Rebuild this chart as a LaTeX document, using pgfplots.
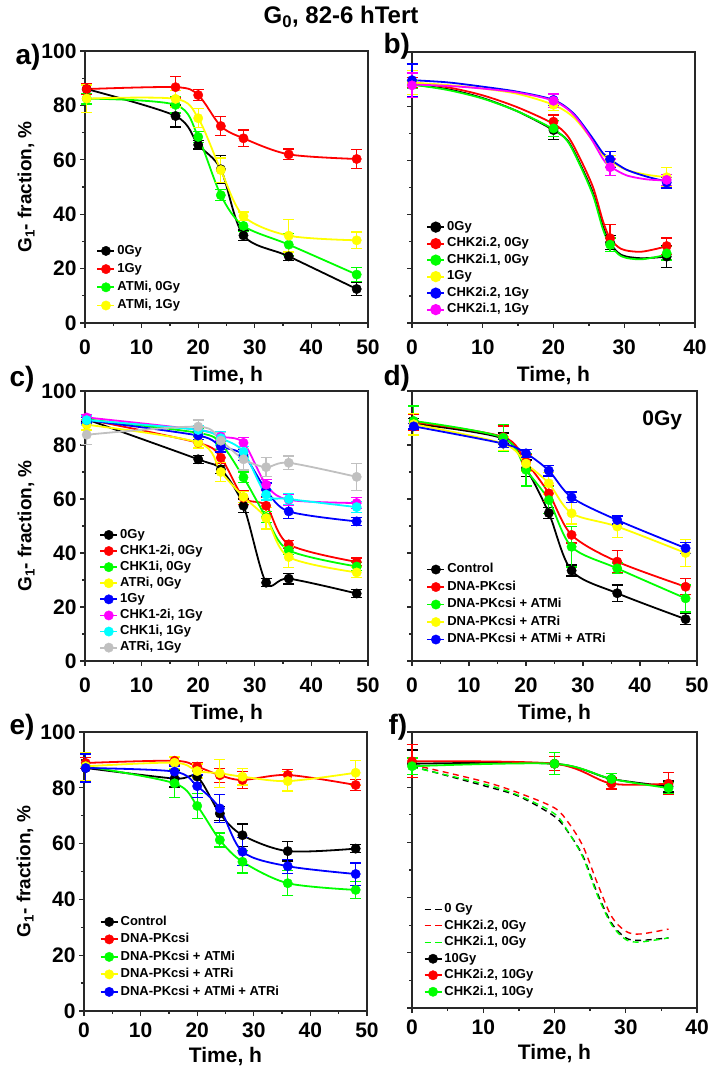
\documentclass[border=0pt]{standalone}
\usepackage{fontspec}
\setmainfont{Liberation Sans}
\usepackage{pgfplots}
\pgfplotsset{compat=1.18}
\definecolor{lgrey}{RGB}{192,192,192}
\definecolor{axgrey}{RGB}{40,40,40}
\definecolor{cred}{RGB}{255,0,0}
\definecolor{cgreen}{RGB}{0,255,0}
\definecolor{cyell}{RGB}{255,255,0}
\definecolor{cblue}{RGB}{0,0,255}
\definecolor{cmag}{RGB}{255,0,255}
\definecolor{ccyan}{RGB}{0,255,255}

\pgfplotsset{
  panel/.style={scale only axis, width=283pt, height=271pt,
    ymin=0, ymax=100, ytick={0,20,...,100}, minor y tick num=1, minor x tick num=1,
    axis line style={axgrey, line width=1.8pt},
    tick align=outside, xtick pos=bottom, ytick pos=left,
    major tick length=5pt, minor tick length=3pt,
    every tick/.style={axgrey, line width=1.3pt},
    ticklabel style={font=\bfseries\fontsize{21}{21}\selectfont},
    xticklabel style={yshift=-3pt},
    /pgf/number format/assume math mode=true,
    xlabel={Time, h},
    xlabel style={font=\bfseries\fontsize{21}{21}\selectfont, yshift=-3pt},
    ylabel style={font=\bfseries\fontsize{19}{19}\selectfont},
    clip=false, legend cell align=left,
    legend style={draw=none, fill=none, anchor=south west, inner sep=0pt,
      font=\bfseries\fontsize{13}{13}\selectfont,
      nodes={inner sep=2pt, text height=9pt, text depth=2.5pt}}},
  lowlab/.style={xlabel style={yshift=-2pt}, xticklabel style={yshift=-5pt}},
  ser/.style={color=#1, line width=1.8pt, smooth, tension=0.5, mark=*, mark size=4.7pt,
    mark options={solid, fill=#1, draw=#1, line width=0.4pt},
    error bars/y dir=both, error bars/y explicit,
    error bars/error bar style={line width=1.3pt, #1, solid},
    error bars/error mark options={rotate=90, mark size=5.5pt, line width=1.3pt, #1}},
  leg/.style={color=#1, line width=1.8pt, mark=*, mark size=4.7pt,
    mark options={solid, fill=#1, draw=#1}},
  crv/.style={color=#1, line width=1.8pt, smooth, tension=0.5, no marks},
  dsh/.style={color=#1, line width=1.4pt, smooth, tension=0.5, no marks, dash pattern=on 6pt off 4.5pt},
}

\begin{document}
\begin{tikzpicture}
\useasboundingbox (0,0) rectangle (711pt,1069pt);

\node[anchor=base, font=\bfseries\fontsize{24}{24}\selectfont] at (341pt,1045pt) {G\textsubscript{0}, 82-6 hTert};

% ---------- a) ----------
\begin{axis}[panel, lowlab, at={(85pt,746pt)}, anchor=south west, height=272pt,
  xmin=0, xmax=50, xtick={0,10,...,50},
  ylabel={G\textsubscript{1}- fraction, \%},
  legend style={at={(0.04,0.035)}, row sep=2.7pt}]
\addplot[ser=black] coordinates {(0.3,86) +- (0,1.5) (16,76.1) +- (0,4) (20,65.5) +- (0,1.5) (24,56.5) +- (0,5) (28,32.2) +- (0,2) (36,24.5) +- (0,1.5) (48,12.5) +- (0,2.5)};
\addlegendentry{0Gy}
\addplot[ser=cred] coordinates {(0.3,86) +- (0,2) (16,86.7) +- (0,4) (20,83.8) +- (0,2) (24,72.4) +- (0,3.5) (28,67.9) +- (0,3) (36,62) +- (0,2) (48,60.3) +- (0,3.5)};
\addlegendentry{1Gy}
\addplot[ser=cgreen] coordinates {(0.3,82.5) +- (0,2) (16,80.2) +- (0,3) (20,68.4) +- (0,2) (24,47) +- (0,2) (28,35.7) +- (0,2) (36,28.8) +- (0,4) (48,17.8) +- (0,2.5)};
\addlegendentry{ATMi, 0Gy}
\addplot[ser=cyell] coordinates {(0.3,82.5) +- (0,5) (16,82.4) +- (0,3) (20,75.3) +- (0,3.5) (24,56.2) +- (0,4.5) (28,39.3) +- (0,1.5) (36,32.1) +- (0,6) (48,30.4) +- (0,3)};
\addlegendentry{ATMi, 1Gy}
\end{axis}
\node[anchor=base west, font=\bfseries\fontsize{28}{28}\selectfont] at (12pt,1004pt) {a)};

% ---------- b) ----------
\begin{axis}[panel, lowlab, at={(412pt,746pt)}, anchor=south west,
  xmin=0, xmax=40, xtick={0,10,...,40}, yticklabels={},
  legend style={at={(0.05,0.02)}, row sep=1pt}]
\addlegendimage{leg=black}\addlegendentry{0Gy}
\addlegendimage{leg=cred}\addlegendentry{CHK2i.2, 0Gy}
\addlegendimage{leg=cgreen}\addlegendentry{CHK2i.1, 0Gy}
\addlegendimage{leg=cyell}\addlegendentry{1Gy}
\addlegendimage{leg=cblue}\addlegendentry{CHK2i.2, 1Gy}
\addlegendimage{leg=cmag}\addlegendentry{CHK2i.1, 1Gy}
\addplot[crv=black, forget plot] coordinates {(0,88) (5,86.3) (10,83) (15,78) (20,71.2) (22,67.3) (23.7,59) (25.6,47.8) (27,35.5) (28,29.5) (29.6,25.1) (32.4,23.9) (36,24.5)};
\addplot[crv=cred, forget plot] coordinates {(0,88.7) (5,87) (10,84) (15,79.5) (20,73.5) (22,69) (23.7,61) (25.6,50) (27,37.5) (28,31.3) (29.6,27.3) (32.4,26.3) (36,28.3)};
\addplot[crv=cgreen, forget plot] coordinates {(0,88) (5,86) (10,82.8) (15,78) (20,71.5) (22,67) (23.7,58.5) (25.6,47) (27,34.5) (28,29) (29.6,24.6) (32.4,23.5) (36,25.2)};
\addplot[crv=cyell, forget plot] coordinates {(0,88.7) (5,87.8) (10,86.5) (15,84.5) (20,80.5) (22.8,76) (25.2,68.5) (27,62) (28,59.8) (30.3,56.5) (33.2,54.7) (36,53.8)};
\addplot[crv=cblue, forget plot] coordinates {(0,89.6) (5,88.8) (10,87.2) (15,85.3) (20,82.3) (22.8,77.4) (25.2,69.4) (27,62.6) (28,60.4) (30.3,56.6) (33.2,54) (36,52.2)};
\addplot[crv=cmag, forget plot] coordinates {(0,88) (5,87.5) (10,86.5) (15,85) (20,82) (22.8,77) (25.2,68.5) (27,60.5) (28,57.8) (30.3,54.5) (33.2,53) (36,52.6)};
\addplot[ser=black, only marks, forget plot] coordinates {(0,88) +- (0,1.5) (20,71.2) +- (0,3.5) (28,29.7) +- (0,2.5) (36,24.5) +- (0,4)};
\addplot[ser=cred, only marks, forget plot] coordinates {(0,88.7) +- (0,2) (20,74.3) +- (0,2.5) (28,31.3) +- (0,5) (36,28.4) +- (0,3)};
\addplot[ser=cgreen, only marks, forget plot] coordinates {(0,88) +- (0,1.5) (20,71.8) +- (0,3) (28,28.9) +- (0,2.5) (36,25.7) +- (0,2.5)};
\addplot[ser=cyell, only marks, forget plot] coordinates {(0,88.7) +- (0,4.5) (20,80.5) +- (0,2) (28,59.8) +- (0,2) (36,53.8) +- (0,3.5)};
\addplot[ser=cblue, only marks, forget plot] coordinates {(0,89.6) +- (0,6) (20,82.3) +- (0,2) (28,60.4) +- (0,3) (36,51.8) +- (0,2)};
\addplot[ser=cmag, only marks, forget plot] coordinates {(0,87.7) +- (0,4.5) (20,82) +- (0,2.5) (28,57.5) +- (0,3) (36,52.8) +- (0,2)};
\end{axis}
\node[anchor=base west, font=\bfseries\fontsize{28}{28}\selectfont] at (380pt,1015pt) {b)};

% ---------- c) ----------
\begin{axis}[panel, lowlab, at={(85pt,408pt)}, anchor=south west, height=270pt,
  xmin=0, xmax=50, xtick={0,10,...,50},
  ylabel={G\textsubscript{1}- fraction, \%},
  legend style={at={(0.05,0.02)}, row sep=0.6pt}]
\addplot[ser=black] coordinates {(0.3,89.5) +- (0,1) (20,74.7) +- (0,1.5) (24,71) +- (0,1.5) (28,57.5) +- (0,2.5) (32,29) +- (0,1.5) (36,30.5) +- (0,2) (48,25) +- (0,1.5)};
\addlegendentry{0Gy}
\addplot[ser=cred] coordinates {(0.3,89.5) +- (0,1.5) (20,80.8) +- (0,2) (24,75.3) +- (0,2) (28,60.5) +- (0,2.5) (32,57.5) +- (0,3) (36,43.2) +- (0,1.5) (48,36.7) +- (0,1.5)};
\addlegendentry{CHK1-2i, 0Gy}
\addplot[ser=cgreen] coordinates {(0.3,89.5) +- (0,1.5) (20,84.5) +- (0,1.5) (24,80.5) +- (0,2) (28,68) +- (0,2) (32,53.3) +- (0,2) (36,41) +- (0,1.5) (48,35) +- (0,1.5)};
\addlegendentry{CHK1i, 0Gy}
\addplot[ser=cyell] coordinates {(0.3,87.5) +- (0,2) (20,80.9) +- (0,2) (24,70) +- (0,3.5) (28,60.8) +- (0,2) (32,52.9) +- (0,4) (36,38.5) +- (0,4) (48,32.8) +- (0,2)};
\addlegendentry{ATRi, 0Gy}
\addplot[ser=cblue] coordinates {(0.3,89.2) +- (0,1) (20,83.5) +- (0,1.5) (24,79.4) +- (0,2) (28,76.3) +- (0,2) (32,63.4) +- (0,2.5) (36,55.4) +- (0,2.5) (48,51.7) +- (0,1.5)};
\addlegendentry{1Gy}
\addplot[ser=cmag] coordinates {(0.3,90.2) +- (0,1) (20,85.6) +- (0,1.5) (24,83.1) +- (0,1.5) (28,80.8) +- (0,2) (32,65.3) +- (0,2) (36,59.7) +- (0,2) (48,58.5) +- (0,2)};
\addlegendentry{CHK1-2i, 1Gy}
\addplot[ser=ccyan] coordinates {(0.3,89.2) +- (0,1.5) (20,85.6) +- (0,1.5) (24,82.5) +- (0,2.5) (28,77.5) +- (0,2) (32,61.6) +- (0,2) (36,60) +- (0,2) (48,57) +- (0,2)};
\addlegendentry{CHK1i, 1Gy}
\addplot[ser=lgrey] coordinates {(0.3,83.8) +- (0,3.5) (20,86.8) +- (0,2.5) (24,81.6) +- (0,3) (28,74.7) +- (0,4) (32,71.8) +- (0,3.5) (36,73.4) +- (0,2.5) (48,68.2) +- (0,5)};
\addlegendentry{ATRi, 1Gy}
\end{axis}
\node[anchor=base west, font=\bfseries\fontsize{28}{28}\selectfont] at (6pt,682pt) {c)};

% ---------- d) ----------
\begin{axis}[panel, lowlab, at={(412pt,408pt)}, anchor=south west, width=285pt, height=270pt,
  xmin=0, xmax=50, xtick={0,10,...,50}, yticklabels={},
  legend style={at={(0.05,0.05)}, row sep=2pt}]
\addplot[ser=black] coordinates {(0.3,87.9) +- (0,2) (16,82.4) +- (0,2) (20,71.4) +- (0,3) (24,54.8) +- (0,2) (28,33.5) +- (0,2) (36,25.1) +- (0,3) (48,15.5) +- (0,2)};
\addlegendentry{Control}
\addplot[ser=cred] coordinates {(0.3,88.5) +- (0,3) (16,83) +- (0,4) (20,73.7) +- (0,3) (24,62.1) +- (0,3) (28,46.7) +- (0,3) (36,36.8) +- (0,4) (48,27.5) +- (0,3)};
\addlegendentry{DNA-PKcsi}
\addplot[ser=cgreen] coordinates {(0.3,88.9) +- (0,5.5) (16,82.7) +- (0,5) (20,70.8) +- (0,6) (24,59.6) +- (0,5) (28,42.3) +- (0,7.5) (36,34.3) +- (0,2) (48,23.2) +- (0,5)};
\addlegendentry{DNA-PKcsi + ATMi}
\addplot[ser=cyell] coordinates {(0.3,87.7) +- (0,4) (16,80.5) +- (0,2.5) (20,73.1) +- (0,3) (24,65.8) +- (0,4) (28,54.7) +- (0,4) (36,49.8) +- (0,4) (48,40) +- (0,5)};
\addlegendentry{DNA-PKcsi + ATRi}
\addplot[ser=cblue] coordinates {(0.3,86.9) +- (0,1) (16,80.5) +- (0,1.5) (20,76.9) +- (0,1.5) (24,70.5) +- (0,2) (28,60.6) +- (0,2) (36,52.2) +- (0,1.5) (48,41.8) +- (0,2)};
\addlegendentry{DNA-PKcsi + ATMi + ATRi}
\node[anchor=north east, font=\bfseries\fontsize{21}{21}\selectfont] at (rel axis cs:0.96,0.94) {0Gy};
\end{axis}
\node[anchor=base west, font=\bfseries\fontsize{28}{28}\selectfont] at (380pt,683pt) {d)};

% ---------- e) ----------
\begin{axis}[panel, at={(84pt,58pt)}, anchor=south west, height=279pt,
  xmin=0, xmax=50, xtick={0,10,...,50},
  ylabel={G\textsubscript{1}- fraction, \%},
  legend style={at={(0.055,0.04)}, row sep=2pt}]
\addplot[ser=black] coordinates {(0.3,87.1) +- (0,5) (16,83.3) +- (0,3) (20,84) +- (0,2) (24,70.8) +- (0,2.5) (28,63) +- (0,4) (36,57.3) +- (0,3.5) (48,58.2) +- (0,1.5)};
\addlegendentry{Control}
\addplot[ser=cred] coordinates {(0.3,88.9) +- (0,2) (16,89.7) +- (0,1.5) (20,87.6) +- (0,1.5) (24,84.5) +- (0,2.5) (28,82.8) +- (0,3) (36,84.6) +- (0,2) (48,81) +- (0,2)};
\addlegendentry{DNA-PKcsi}
\addplot[ser=cgreen] coordinates {(0.3,87.7) +- (0,5) (16,81.6) +- (0,5) (20,73.5) +- (0,4.5) (24,61.3) +- (0,2.5) (28,53.5) +- (0,4) (36,45.8) +- (0,4.5) (48,43.4) +- (0,3)};
\addlegendentry{DNA-PKcsi + ATMi}
\addplot[ser=cyell] coordinates {(0.3,87.7) +- (0,5) (16,89) +- (0,2) (20,86) +- (0,2.5) (24,85.2) +- (0,5) (28,84) +- (0,3) (36,82.4) +- (0,3.5) (48,85.4) +- (0,4.5)};
\addlegendentry{DNA-PKcsi + ATRi}
\addplot[ser=cblue] coordinates {(0.3,87.1) +- (0,5) (16,85.8) +- (0,2) (20,80.6) +- (0,4) (24,72.6) +- (0,5) (28,57.1) +- (0,5) (36,51.9) +- (0,2.5) (48,49.1) +- (0,4)};
\addlegendentry{DNA-PKcsi + ATMi + ATRi}
\end{axis}
\node[anchor=base west, font=\bfseries\fontsize{28}{28}\selectfont] at (6pt,334pt) {e)};

% ---------- f) ----------
\begin{axis}[panel, at={(412pt,61pt)}, anchor=south west, width=285pt, height=276pt,
  xmin=0, xmax=40, xtick={0,10,...,40}, yticklabels={},
  legend style={at={(0.04,0.03)}, row sep=1pt}]
\addplot[dsh=black] coordinates {(0,87.6) (10,80.6) (15,76.7) (20,69.4) (22,63.4) (24,55) (26,41.7) (28,30.8) (30,25.4) (32,24.5) (36,25.4)};
\addlegendentry{0 Gy}
\addplot[dsh=cred] coordinates {(0,88.2) (10,82.1) (15,77.9) (20,72.5) (22,67) (24,58.6) (26,45.3) (28,33.2) (30,27.8) (32,26.8) (36,28.6)};
\addlegendentry{CHK2i.2, 0Gy}
\addplot[dsh=cgreen] coordinates {(0,87.3) (10,81.2) (15,77) (20,70.4) (22,63.5) (24,54.5) (26,41) (28,30.2) (30,24.8) (32,23.9) (36,25.4)};
\addlegendentry{CHK2i.1, 0Gy}
\addplot[ser=black] coordinates {(0,88.5) +- (0,5) (20,88.5) +- (0,4) (28,83) +- (0,2) (36,80.3) +- (0,2)};
\addlegendentry{10Gy}
\addplot[ser=cred] coordinates {(0,89.4) +- (0,6) (20,88.5) +- (0,2.5) (28,81.3) +- (0,2) (36,81.3) +- (0,4)};
\addlegendentry{CHK2i.2, 10Gy}
\addplot[ser=cgreen] coordinates {(0,87.6) +- (0,3) (20,88.5) +- (0,4) (28,83) +- (0,2) (36,79.7) +- (0,2)};
\addlegendentry{CHK2i.1, 10Gy}
\end{axis}
\node[anchor=base west, font=\bfseries\fontsize{28}{28}\selectfont] at (385pt,334pt) {f)};
\end{tikzpicture}
\end{document}
